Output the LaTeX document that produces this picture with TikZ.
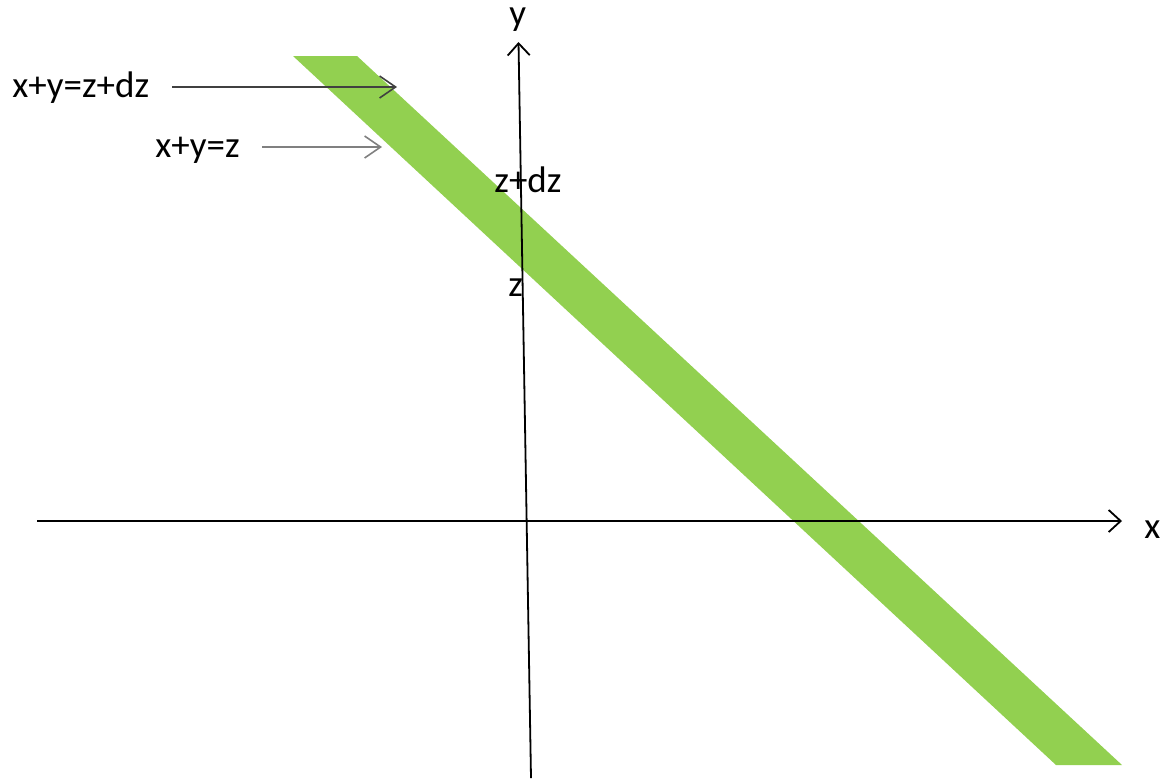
\documentclass[tikz,border=0pt]{standalone}
\usepackage{fontspec}
\setmainfont{Carlito}
\usetikzlibrary{arrows.meta}
\definecolor{bandgreen}{HTML}{92D050}
\definecolor{arrowdark}{HTML}{404040}
\definecolor{arrowlight}{HTML}{808080}
\tikzset{
  axisline/.style={
    -{Straight Barb[length=6pt,width=11pt]}, line width=0.9pt, color=black
  },
  pointer/.style={
    -{Straight Barb[length=8pt,width=11pt]}, line width=0.8pt, color=#1
  },
  pointer/.default=arrowdark,
  eqlabel/.style={
    font=\fontsize{18.5}{22}\selectfont, inner sep=0pt, anchor=base west
  },
}
\begin{document}
\begin{tikzpicture}[x=0.5pt, y=-0.5pt]
\useasboundingbox (0,0) rectangle (1161,778);

% strip between the two lines
\fill[bandgreen] (293,56) -- (357,56) -- (1122,765) -- (1056,765) -- cycle;

% axes
\coordinate (xstart) at (37,521);
\coordinate (xend) at (1122,521);
\coordinate (ystart) at (531,778);
\coordinate (yend) at (518.5,42);
\draw[axisline] (xstart) -- (xend);
\draw[axisline] (ystart) -- (yend);
\node[eqlabel] (xlbl) at (1144,538) {x};
\node[eqlabel] (ylbl) at (509,25) {y};

% intercepts
\node[eqlabel] (zdzlbl) at (494,192) {z+dz};
\node[eqlabel] (zlbl) at (508,296) {z};

% line labels
\node[eqlabel] (lineA) at (12,97) {x+y=z+dz};
\node[eqlabel] (lineB) at (155,157) {x+y=z};
\coordinate (tailA) at (172,87);
\coordinate (tipA) at (397,87);
\coordinate (tailB) at (262,147);
\coordinate (tipB) at (382,147);
\draw[pointer] (tailA) -- (tipA);
\draw[pointer=arrowlight] (tailB) -- (tipB);

\end{tikzpicture}
\end{document}
